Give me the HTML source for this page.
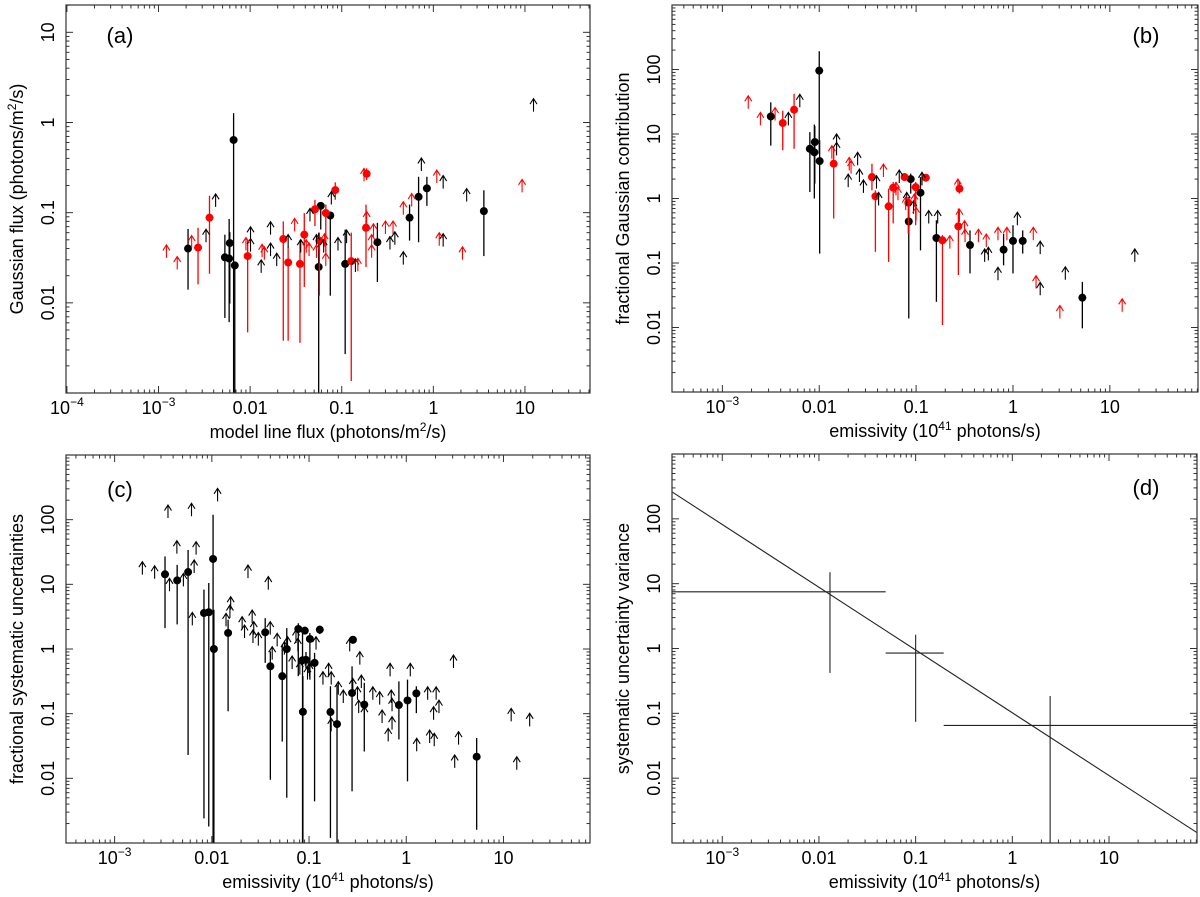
<!DOCTYPE html>
<html><head><meta charset="utf-8"><title>Four-panel log-log chart: Gaussian flux, fractional contribution, systematic uncertainties and variance</title>
<style>
html,body{margin:0;padding:0;background:#fff;}
svg{display:block;font-family:"Liberation Sans",sans-serif;}
</style></head>
<body>
<svg id="fig" width="1200" height="897" viewBox="0 0 1200 897" xmlns="http://www.w3.org/2000/svg"></svg>
<script>
// ---------- Panel (a) data ----------
const aBlkX = [0.0021,0.0053,0.0059,0.0060,0.0066,0.0068,0.059,0.056,0.075,0.109,0.245,0.55,0.69,0.85,3.56];
const aBlkY = [0.040,0.032,0.031,0.046,0.64,0.026,0.119,0.025,0.093,0.027,0.047,0.088,0.150,0.186,0.104];
const aBlkHi = [0.066,0.057,0.085,0.061,1.27,0.028,0.128,0.060,0.099,0.065,0.077,0.123,0.25,0.25,0.177];
const aBlkLo = [0.014,0.0068,0.0061,0.0098,0.0005,0.0005,0.065,0.0005,0.012,0.0027,0.017,0.049,0.047,0.119,0.033];
const aRedX = [0.0027,0.0036,0.0094,0.023,0.026,0.035,0.039,0.051,0.057,0.067,0.085,0.127,0.184,0.187];
const aRedY = [0.041,0.088,0.033,0.051,0.028,0.027,0.057,0.109,0.049,0.099,0.178,0.029,0.068,0.27];
const aRedHi = [0.068,0.154,0.050,0.080,0.042,0.050,0.099,0.139,0.060,0.123,0.217,0.060,0.123,0.31];
const aRedLo = [0.016,0.021,0.0047,0.0038,0.0038,0.0036,0.015,0.071,0.012,0.036,0.139,0.00136,0.025,0.23];
const aBArrX = [0.0042,0.0033,0.0101,0.0101,0.0167,0.0167,0.0132,0.0195,0.026,0.0357,0.045,0.053,0.0635,0.077,0.091,0.113,0.141,0.336,0.38,0.47,0.74,1.28,1.28,2.31,12.4];
const aBArrY = [0.116,0.047,0.050,0.037,0.057,0.033,0.0215,0.0255,0.041,0.036,0.080,0.041,0.036,0.123,0.038,0.046,0.022,0.039,0.044,0.0265,0.29,0.185,0.042,0.133,1.32];
const aRArrX = [0.00122,0.0016,0.0023,0.009,0.0135,0.0143,0.0306,0.041,0.044,0.053,0.065,0.067,0.15,0.175,0.187,0.212,0.212,0.222,0.30,0.363,0.47,0.58,1.09,1.16,2.08,9.3];
const aRArrY = [0.0315,0.0234,0.040,0.038,0.032,0.030,0.062,0.036,0.033,0.0315,0.042,0.0255,0.0224,0.222,0.074,0.0316,0.041,0.054,0.058,0.058,0.095,0.117,0.213,0.043,0.030,0.168];
// ---------- Panel (b) data ----------
const bBlkX = [0.00316,0.0080,0.0089,0.009,0.0101,0.010,0.084,0.088,0.111,0.162,0.36,0.80,1.0,1.26,5.2];
const bBlkY = [18.7,5.9,5.2,7.5,3.8,96,0.44,2.0,1.23,0.244,0.19,0.161,0.22,0.22,0.029];
const bBlkHi = [31,10.7,14,13.3,8,192,1.05,2.43,2.15,0.46,0.32,0.285,0.385,0.32,0.051];
const bBlkLo = [6.6,1.26,1.0,1.7,0.14,4.9,0.0138,1.19,0.157,0.025,0.069,0.092,0.069,0.14,0.0097];
const bRedX = [0.0042,0.0055,0.0141,0.035,0.038,0.052,0.058,0.076,0.083,0.099,0.126,0.187,0.273,0.28];
const bRedY = [14.8,23.8,3.46,2.15,1.08,0.757,1.47,2.15,0.86,1.5,2.1,0.225,0.37,1.42];
const bRedHi = [23,42,6.3,3.46,1.34,1.42,1.8,2.4,1.05,1.8,2.4,0.27,0.70,1.8];
const bRedLo = [5.6,5.9,0.49,1.34,0.149,0.104,0.41,1.9,0.285,0.385,1.85,0.0109,0.065,1.19];
const bBArrX = [0.0048,0.0063,0.0151,0.0151,0.0199,0.0249,0.026,0.0286,0.039,0.041,0.067,0.080,0.094,0.115,0.135,0.167,0.51,0.557,0.70,1.11,1.91,1.91,3.47,18.1];
const bBArrY = [13.6,26,4.66,6.3,1.5,3.27,1.8,1.22,1.42,0.78,1.74,0.78,0.58,1.6,0.41,0.41,0.104,0.110,0.054,0.385,0.137,0.0316,0.055,0.104];
const bRArrX = [0.00185,0.00247,0.0035,0.0135,0.0204,0.0213,0.046,0.062,0.065,0.078,0.096,0.100,0.27,0.28,0.223,0.316,0.32,0.44,0.53,0.70,0.865,1.62,1.73,3.05,13.4];
const bRArrY = [24.6,13.6,16.2,4.14,2.73,2.43,2.15,1.12,0.94,0.66,0.74,0.46,1.26,0.43,0.167,0.285,0.21,0.21,0.177,0.225,0.225,0.225,0.040,0.0138,0.0175];
// ---------- Panel (c) data ----------
const cX = [0.0033,0.0044,0.0057,0.0083,0.0093,0.0103,0.0105,0.0147,0.0354,0.040,0.053,0.059,0.0775,0.0905,0.0857,0.0865,0.093,0.102,0.114,0.129,0.166,0.194,0.277,0.283,0.37,0.84,1.03,1.27,5.3];
const cY = [14.3,11.5,15.5,3.6,3.7,24.7,1.0,1.77,1.81,0.54,0.38,1.0,2.04,1.92,0.67,0.107,0.68,1.43,0.61,1.99,0.106,0.069,0.209,1.39,0.138,0.136,0.16,0.206,0.0216];
const cHi = [27,20,34,8.3,10.5,119,4.05,2.84,3.0,0.92,1.17,2.1,2.5,2.2,1.77,0.38,0.9,1.77,0.87,2.3,0.265,0.28,0.54,1.5,0.30,0.316,0.336,0.265,0.042];
const cLo = [2.1,2.4,0.023,0.0024,0.0018,0.0005,0.0005,0.109,0.61,0.0095,0.037,0.005,0.38,1.7,0.0005,0.0005,0.5,0.336,0.0044,1.7,0.0012,0.0005,0.0063,1.25,0.026,0.040,0.009,0.102,0.0016];
const cArrX = [0.00193,0.00258,0.00354,0.00367,0.00437,0.0051,0.00618,0.0063,0.00658,0.00689,0.01146,0.014,0.01535,0.01563,0.0205,0.0217,0.026,0.0265,0.027,0.0301,0.02355,0.0381,0.0399,0.0418,0.047,0.0558,0.0601,0.067,0.0734,0.0767,0.0804,0.0964,0.0982,0.101,0.118,0.139,0.159,0.169,0.169,0.2,0.225,0.262,0.282,0.315,0.324,0.333,0.345,0.371,0.453,0.533,0.564,0.652,0.682,0.701,0.714,0.714,1.10,1.28,1.66,1.74,1.91,1.94,2.03,2.17,3.06,3.15,3.45,12.0,13.7,18.6];
const cArrY = [14.1,12.2,106,7.8,29.8,9.3,113,2.32,15.0,28.8,192,2.24,3.01,4.06,1.99,1.48,2.52,1.24,1.67,1.13,12.5,8.3,1.67,0.684,1.10,0.817,0.977,0.491,1.24,0.92,0.401,0.336,0.426,0.378,0.977,0.281,0.378,0.281,0.0533,0.197,0.146,0.92,0.221,0.164,0.102,0.573,0.249,0.0807,0.164,0.138,0.0718,0.0373,0.378,0.146,0.0566,0.109,0.378,0.0262,0.164,0.0352,0.0807,0.0313,0.164,0.102,0.508,0.0145,0.0332,0.076,0.0136,0.0637];
// ---------- Panel (d) data ----------
const dX = [0.013,0.10,2.46];
const dY = [7.5,0.85,0.065];
const dXlo = [0.0003,0.049,0.195];
const dXhi = [0.049,0.195,100];
const dYlo = [0.42,0.074,0.0005];
const dYhi = [15,1.63,0.185];
const fitAmp = [0.102];
const fitIndex = [-0.968];
// ---------- tick labels ----------
const aXTicks = [-4,-3,-2,-1,0,1];
const aXTickLabels = [["10","\u22124"],["10","\u22123"],["0.01"],["0.1"],["1"],["10"]];
const aYTicks = [1,0,-1,-2];
const aYTickLabels = ["10","1","0.1","0.01"];
const eXTicks = [-3,-2,-1,0,1];
const eXTickLabels = [["10","\u22123"],["0.01"],["0.1"],["1"],["10"]];
const eYTicks = [2,1,0,-1,-2];
const eYTickLabels = ["100","10","1","0.1","0.01"];

const NS = "http://www.w3.org/2000/svg";
const svg = document.getElementById("fig");
function mk(tag, attrs, parent){
  const e = document.createElementNS(NS, tag);
  for (const k in attrs) e.setAttribute(k, attrs[k]);
  (parent||svg).appendChild(e);
  return e;
}
function L10(v){ return Math.log(v)/Math.LN10; }

function panel(cfg){
  const g = mk("g", {});
  
  
  const sx = v => cfg.x0 + (L10(v) - cfg.lx0) / (cfg.lx1 - cfg.lx0) * (cfg.x1 - cfg.x0);
  const sy = v => cfg.y1 - (L10(v) - cfg.ly0) / (cfg.ly1 - cfg.ly0) * (cfg.y1 - cfg.y0);
  const cp = mk("clipPath", {id: "clip-" + cfg.id}, g);
  mk("rect", {x: cfg.x0, y: cfg.y0, width: cfg.x1 - cfg.x0, height: cfg.y1 - cfg.y0}, cp);
  const plot = mk("g", {"clip-path": "url(#clip-" + cfg.id + ")"}, g);
  
  
  // ticks
  const tg = mk("g", {stroke: "#333", "stroke-width": 1}, g);
  
  
  for (let d = Math.floor(cfg.lx0) - 1; d <= Math.ceil(cfg.lx1); d++){
    for (let m = 1; m <= 9; m++){
      const v = m * Math.pow(10, d);
      const lv = L10(v);
      if (lv < cfg.lx0 || lv > cfg.lx1) continue;
      const x = sx(v), len = m === 1 ? 7 : 3.5;
      mk("line", {x1: x, x2: x, y1: cfg.y1, y2: cfg.y1 - len}, tg);
      mk("line", {x1: x, x2: x, y1: cfg.y0, y2: cfg.y0 + len}, tg);
    }
  }
  for (let d = Math.floor(cfg.ly0) - 1; d <= Math.ceil(cfg.ly1); d++){
    for (let m = 1; m <= 9; m++){
      const v = m * Math.pow(10, d);
      const lv = L10(v);
      if (lv < cfg.ly0 || lv > cfg.ly1) continue;
      const y = sy(v), len = m === 1 ? 7 : 3.5;
      mk("line", {x1: cfg.x0, x2: cfg.x0 + len, y1: y, y2: y}, tg);
      mk("line", {x1: cfg.x1, x2: cfg.x1 - len, y1: y, y2: y}, tg);
    }
  }
  // frame
  const fr = mk("rect", {x: cfg.x0, y: cfg.y0, width: cfg.x1 - cfg.x0, height: cfg.y1 - cfg.y0, fill: "none", stroke: "#333", "stroke-width": 1.2}, g);
  
  
  // x tick labels
  cfg.xt.forEach((d, i) => {
    const t = mk("text", {x: sx(Math.pow(10, d)), y: cfg.y1 + 21, "text-anchor": "middle", "font-size": 18, fill: "#000"}, g);
    
    
    const lab = cfg.xtl[i];
    const s1 = mk("tspan", {}, t); s1.textContent = lab[0];
    if (lab[1]){ const s2 = mk("tspan", {"font-size": 12, dy: -8}, t); s2.textContent = lab[1]; }
  });
  cfg.yt.forEach((d, i) => {
    const y = sy(Math.pow(10, d)), x = cfg.x0 - 12;
    const t = mk("text", {x: x, y: y, "text-anchor": "middle", "font-size": 18, fill: "#000", transform: "rotate(-90 " + x + " " + y + ")"}, g);
    
    
    t.textContent = cfg.ytl[i];
  });
  // axis titles
  const xt = mk("text", {x: (cfg.x0 + cfg.x1) / 2 + cfg.xtOff, y: cfg.y1 + 45, "text-anchor": "middle", "font-size": 18, fill: "#000"}, g);
  
  
  cfg.xtitle.forEach(p => { const s = mk("tspan", p[1] ? {"font-size": 12, dy: -7} : {dy: p[2] || 0}, xt); s.textContent = p[0]; });
  const ycx = cfg.x0 - 43, ycy = (cfg.y0 + cfg.y1) / 2 + cfg.ytOff;
  const yt = mk("text", {x: ycx, y: ycy, "text-anchor": "middle", "font-size": 18, fill: "#000", transform: "rotate(-90 " + ycx + " " + ycy + ")"}, g);
  
  
  cfg.ytitle.forEach(p => { const s = mk("tspan", p[1] ? {"font-size": 12, dy: -7} : {dy: p[2] || 0}, yt); s.textContent = p[0]; });
  // panel label
  const pl = mk("text", {x: cfg.lab[0], y: cfg.lab[1], "text-anchor": "middle", "font-size": 22, fill: "#000"}, g);
  
  
  pl.textContent = "(" + cfg.id + ")";
  return {sx, sy, plot};
}

function points(P, xs, ys, his, los, color, name){
  const g = mk("g", {}, P.plot);
  
  
  xs.forEach((xv, i) => {
    const x = P.sx(xv);
    const eb = mk("line", {x1: x, x2: x, y1: P.sy(his[i]), y2: P.sy(los[i]), stroke: color, "stroke-width": 1.3}, g);
    
    
    const c = mk("circle", {cx: x, cy: P.sy(ys[i]), r: 4, fill: color}, g);
    
    
  });
}
function arrows(P, xs, ys, color, name){
  const g = mk("g", {stroke: color, "stroke-width": 1.1, fill: "none"}, P.plot);
  
  
  xs.forEach((xv, i) => {
    const x = P.sx(xv), y = P.sy(ys[i]), t = y - 13;
    const a = mk("path", {d: "M" + x + " " + y + "L" + x + " " + t + "M" + (x - 3.5) + " " + (t + 5.5) + "L" + x + " " + t + "L" + (x + 3.5) + " " + (t + 5.5)}, g);
    
    
  });
}

const emisTitle = [["emissivity (10"],["41",1],[" photons/s",0,7]];
// Panel a
const PA = panel({id: "a", x0: 66, x1: 590, y0: 5, y1: 393, lx0: -4.01, lx1: 1.71, ly0: -3.0, ly1: 1.303,
  xt: aXTicks, xtl: aXTickLabels, yt: aYTicks, ytl: aYTickLabels, xtOff: 0, ytOff: 0,
  xtitle: [["model line flux (photons/m"],["2",1],["/s)",0,7]],
  ytitle: [["Gaussian flux (photons/m"],["2",1],["/s)",0,7]], lab: [120, 43]});
points(PA, aBlkX, aBlkY, aBlkHi, aBlkLo, "#000", "black-points-a");
points(PA, aRedX, aRedY, aRedHi, aRedLo, "#ff0000", "red-points-a");
arrows(PA, aBArrX, aBArrY, "#000", "black-limits-a");
arrows(PA, aRArrX, aRArrY, "#ff0000", "red-limits-a");
// Panel b
const PB = panel({id: "b", x0: 672, x1: 1198, y0: 5, y1: 392, lx0: -3.52, lx1: 1.91, ly0: -3, ly1: 3,
  xt: eXTicks, xtl: eXTickLabels, yt: eYTicks, ytl: eYTickLabels, xtOff: 0, ytOff: 0,
  xtitle: [["emissivity (10"],["41",1],[" photons/s)",0,7]],
  ytitle: [["fractional Gaussian contribution"]], lab: [1146, 43]});
points(PB, bBlkX, bBlkY, bBlkHi, bBlkLo, "#000", "black-points-b");
points(PB, bRedX, bRedY, bRedHi, bRedLo, "#ff0000", "red-points-b");
arrows(PB, bBArrX, bBArrY, "#000", "black-limits-b");
arrows(PB, bRArrX, bRArrY, "#ff0000", "red-limits-b");
// Panel c
const PC = panel({id: "c", x0: 66, x1: 590, y0: 455, y1: 843, lx0: -3.50, lx1: 1.89, ly0: -3, ly1: 3,
  xt: eXTicks, xtl: eXTickLabels, yt: eYTicks, ytl: eYTickLabels, xtOff: 0, ytOff: 0,
  xtitle: [["emissivity (10"],["41",1],[" photons/s)",0,7]],
  ytitle: [["fractional systematic uncertainties"]], lab: [120, 497]});
points(PC, cX, cY, cHi, cLo, "#000", "black-points-c");
arrows(PC, cArrX, cArrY, "#000", "black-limits-c");
// Panel d
const PD = panel({id: "d", x0: 672, x1: 1197, y0: 454, y1: 843, lx0: -3.52, lx1: 1.91, ly0: -3, ly1: 3,
  xt: eXTicks, xtl: eXTickLabels, yt: eYTicks, ytl: eYTickLabels, xtOff: 0, ytOff: 0,
  xtitle: [["emissivity (10"],["41",1],[" photons/s)",0,7]],
  ytitle: [["systematic uncertainty variance"]], lab: [1146, 495]});
(function(){
  const g = mk("g", {stroke: "#222", "stroke-width": 1.1, fill: "none"}, PD.plot);
  
  
  dX.forEach((xv, i) => {
    const h = mk("line", {x1: PD.sx(dXlo[i]), x2: PD.sx(dXhi[i]), y1: PD.sy(dY[i]), y2: PD.sy(dY[i])}, g);
    
    
    const v = mk("line", {x1: PD.sx(xv), x2: PD.sx(xv), y1: PD.sy(dYhi[i]), y2: PD.sy(dYlo[i])}, g);
    
    
  });
  const xa = Math.pow(10, -3.6), xb = Math.pow(10, 2.0);
  const fl = mk("line", {x1: PD.sx(xa), y1: PD.sy(fitAmp[0] * Math.pow(xa, fitIndex[0])), x2: PD.sx(xb), y2: PD.sy(fitAmp[0] * Math.pow(xb, fitIndex[0])), stroke: "#222", "stroke-width": 1.1}, PD.plot);
  
  
})();
</script>
</body></html>
